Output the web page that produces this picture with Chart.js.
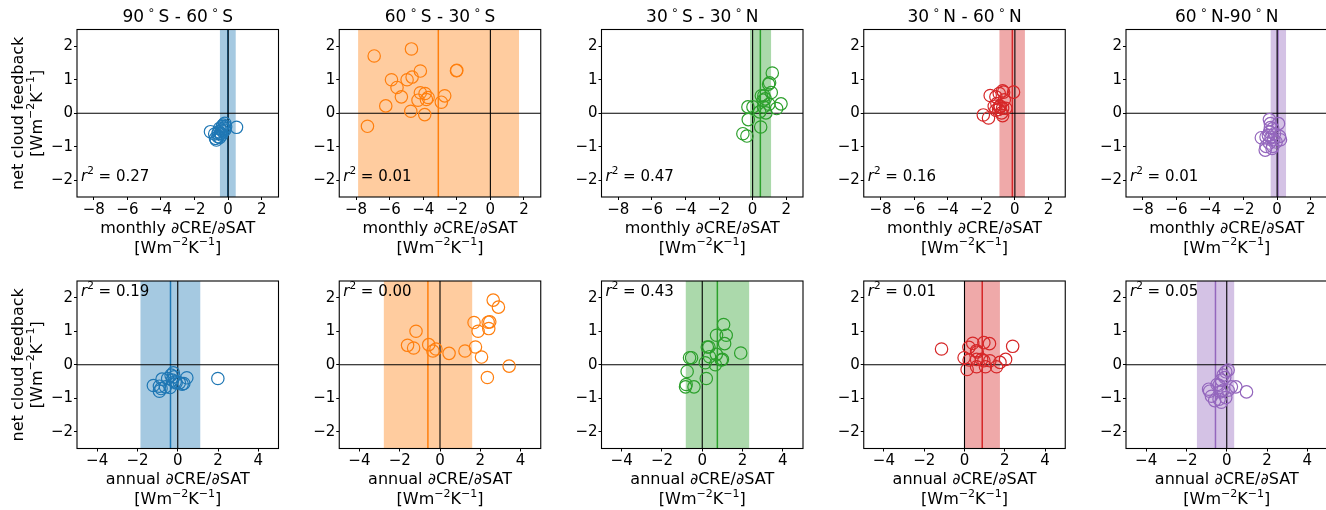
<!DOCTYPE html>
<html><head><meta charset="utf-8">
<script src="https://cdn.jsdelivr.net/npm/chart.js@4.4.0/dist/chart.umd.min.js"></script>
<style>
html,body{margin:0;padding:0;background:#fff;width:1326px;height:510px;overflow:hidden;position:relative}
canvas{position:absolute}
</style></head><body>
<script>
// ---------- DATA ----------
const regions = ['90°S - 60°S', '60°S - 30°S', '30°S - 30°N', '30°N - 60°N', '60°N-90°N'];
const monthlyXTicks = [-8, -6, -4, -2, 0, 2];
const annualXTicks = [-4, -2, 0, 2, 4];
const yTicks = [-2, -1, 0, 1, 2];
const monthlyRange = [-9, 3];
const annualRange = [-5, 5];
const yRange = [-2.5, 2.5];

const monthlyR2 = [0.27, 0.01, 0.47, 0.16, 0.01];
const annualR2 = [0.19, 0.00, 0.43, 0.01, 0.05];

const monthlyBandLo = [-0.50, -7.88, -0.16, -0.93, -0.40];
const monthlyBandHi = [0.46, 1.71, 1.11, 0.60, 0.54];
const monthlyMean = [-0.02, -3.10, 0.46, -0.15, 0.05];
const annualBandLo = [-1.86, -2.80, -0.83, 0.00, -1.49];
const annualBandHi = [1.13, 1.61, 2.34, 1.76, 0.38];
const annualMean = [-0.36, -0.60, 0.75, 0.88, -0.56];

// monthly dCRE/dSAT (x) vs net cloud feedback (y)
const m0x = [-1.05,-0.80,-0.75,-0.70,-0.60,-0.55,-0.50,-0.45,-0.40,-0.35,-0.30,-0.30,-0.25,-0.20,-0.20,-0.15,-0.60,-0.40,-0.50,0.50];
const m0y = [-0.55,-0.62,-0.75,-0.80,-0.70,-0.55,-0.45,-0.60,-0.50,-0.40,-0.35,-0.55,-0.45,-0.30,-0.50,-0.40,-0.60,-0.65,-0.72,-0.42];
const m1x = [-6.92,-4.70,-4.17,-2.02,-2.00,-5.89,-4.96,-4.66,-5.56,-5.30,-6.23,-4.17,-3.89,-4.31,-3.81,-3.71,-2.92,-2.72,-4.74,-3.91,-7.32];
const m1y = [1.71,1.92,1.26,1.27,1.28,1.00,1.00,1.08,0.77,0.49,0.22,0.61,0.59,0.39,0.41,0.47,0.33,0.52,0.06,-0.04,-0.39];
const m2x = [1.17,0.95,1.01,1.11,0.52,0.67,0.75,0.97,1.69,1.43,-0.28,0.02,0.65,0.42,0.79,-0.26,0.48,-0.58,-0.34,0.63];
const m2y = [1.20,0.87,0.91,0.62,0.52,0.52,0.43,0.27,0.28,0.14,0.19,0.19,0.19,0.04,0.01,-0.19,-0.41,-0.61,-0.68,0.39];
const m3x = [-1.47,-1.13,-0.93,-0.73,-0.67,-0.08,-0.63,-1.23,-0.93,-1.13,-0.97,-0.73,-0.54,-0.79,-1.88,-1.57,-0.73,-0.87,-1.07];
const m3y = [0.53,0.49,0.59,0.67,0.63,0.63,0.40,0.21,0.19,0.09,0.11,0.15,0.15,0.01,-0.05,-0.14,-0.07,0.21,0.29];
const m4x = [-0.46,-0.40,0.08,-0.40,-0.26,-0.46,-0.16,-0.94,-0.66,-0.36,0.20,-0.06,-0.46,-0.66,-0.71,-0.30,0.14,-0.26,-0.52,-0.20];
const m4y = [-0.19,-0.31,-0.31,-0.43,-0.46,-0.56,-0.61,-0.73,-0.71,-0.73,-0.79,-0.86,-0.89,-0.99,-1.10,-1.05,-0.69,-0.99,-0.66,-0.79];

// annual dCRE/dSAT (x) vs net cloud feedback (y)
const a0x = [1.99,0.45,0.30,0.22,-0.22,-0.18,-0.27,-0.08,-0.50,-0.78,-0.38,-1.21,-0.91,-0.83,-0.91,-0.61,0.08,-0.13,-0.33];
const a0y = [-0.41,-0.39,-0.56,-0.58,-0.24,-0.36,-0.46,-0.54,-0.41,-0.43,-0.68,-0.62,-0.64,-0.71,-0.79,-0.66,-0.54,-0.51,-0.31];
const a1x = [2.64,2.90,1.69,2.39,2.47,2.42,1.89,-1.19,-1.61,-1.31,-0.56,-0.35,-0.20,0.45,1.24,1.76,2.06,3.43,2.35];
const a1y = [1.93,1.72,1.26,1.27,1.28,1.08,1.00,1.00,0.58,0.50,0.60,0.41,0.47,0.34,0.41,0.53,0.23,-0.04,-0.38];
const a2x = [1.06,0.71,1.19,1.11,1.91,0.25,0.33,0.36,0.70,1.00,0.95,0.65,0.15,-0.63,-0.53,-0.75,0.20,-0.80,-0.83,-0.41];
const a2y = [1.20,0.88,0.88,0.63,0.35,0.53,0.53,0.24,0.31,0.16,0.14,0.00,0.06,0.21,0.21,-0.20,-0.41,-0.59,-0.66,-0.66];
const a3x = [-1.14,2.39,0.41,0.96,1.24,0.22,0.60,0.63,-0.02,0.23,0.85,0.96,1.26,2.04,1.76,1.59,1.04,0.60,0.13,0.60];
const a3y = [0.47,0.55,0.64,0.66,0.63,0.52,0.42,0.38,0.21,0.14,0.16,0.12,0.12,0.16,0.07,-0.06,-0.06,-0.06,-0.14,0.16];
const a4x = [0.98,0.45,0.07,-0.05,-0.18,-0.10,-0.27,-0.48,-0.90,-0.85,0.23,0.07,-0.18,-0.32,-0.76,-0.05,-0.60,-0.27,-0.38,-0.38];
const a4y = [-0.81,-0.66,-0.16,-0.21,-0.31,-0.38,-0.46,-0.59,-0.73,-0.79,-0.66,-0.76,-0.76,-0.81,-0.94,-0.98,-1.07,-1.12,-1.03,-0.61];

// ---------- STYLE ----------
const COLORS = ['#1f77b4', '#ff7f0e', '#2ca02c', '#d62728', '#9467bd'];
const BANDS = ['rgba(31,119,180,0.4)', 'rgba(255,127,14,0.4)', 'rgba(44,160,44,0.4)', 'rgba(214,39,40,0.4)', 'rgba(148,103,189,0.4)'];
const FAM = '"DejaVu Sans", sans-serif';

const rows = [
  { label: 'monthly', xs: [m0x, m1x, m2x, m3x, m4x], ys: [m0y, m1y, m2y, m3y, m4y], lo: monthlyBandLo, hi: monthlyBandHi, mean: monthlyMean, r2: monthlyR2, range: monthlyRange, ticks: monthlyXTicks },
  { label: 'annual', xs: [a0x, a1x, a2x, a3x, a4x], ys: [a0y, a1y, a2y, a3y, a4y], lo: annualBandLo, hi: annualBandHi, mean: annualMean, r2: annualR2, range: annualRange, ticks: annualXTicks }
];

function fmtTick(v) { return v < 0 ? '\u2212' + Math.abs(v) : String(v); }

function drawRich(ctx, parts, x, y, align) {
  let total = 0;
  parts.forEach(p => { ctx.font = p.font; p.w = ctx.measureText(p.t).width; total += p.w; });
  let sx = align === 'center' ? x - total / 2 : x;
  ctx.textBaseline = 'middle';
  ctx.textAlign = 'left';
  parts.forEach(p => { ctx.font = p.font; ctx.fillText(p.t, sx, y + (p.dy || 0)); sx += p.w; });
}
function unitParts(size) {
  const f = size + 'px ' + FAM, s = Math.round(size * 0.7) + 'px ' + FAM;
  return [{ t: '[Wm', font: f }, { t: '\u22122', font: s, dy: -size * 0.38 }, { t: 'K', font: f }, { t: '\u22121', font: s, dy: -size * 0.38 }, { t: ']', font: f }];
}
function titleParts(txt, size) {
  const f = size + 'px ' + FAM, s = Math.round(size * 0.7) + 'px ' + FAM;
  const pieces = txt.split('°');
  const out = [];
  const sp = '\u2009';
  pieces.forEach((p, i) => {
    out.push({ t: (i > 0 ? sp : '') + p + (i < pieces.length - 1 ? sp : ''), font: f });
    if (i < pieces.length - 1) out.push({ t: '\u2218', font: s, dy: -size * 0.4 });
  });
  return out;
}

const PLOT_W = 201.5, PLOT_H = 167.5;

function makePanel(r, c) {
  const row = rows[r];
  const plotLeft = 77 + c * 262.25;
  const plotTop = r === 0 ? 29.5 : 281;
  const cl = Math.round(plotLeft - 77);
  const ct = r === 0 ? 0 : 250;
  const cw = 300, ch = r === 0 ? 265 : 260;
  const yW = plotLeft - cl, xH = 50;
  const padTop = plotTop - ct;
  const padBottom = ch - padTop - PLOT_H - xH;
  const padRight = cw - yW - PLOT_W;
  const cv = document.createElement('canvas');
  cv.width = cw; cv.height = ch;
  cv.style.left = cl + 'px'; cv.style.top = ct + 'px';
  cv.style.width = cw + 'px'; cv.style.height = ch + 'px';
  document.body.appendChild(cv);

  const xs = row.xs[c], ys = row.ys[c];
  const pts = xs.map((x, i) => ({ x: x, y: ys[i] }));
  const color = COLORS[c];

  const deco = {
    id: 'deco' + r + c,
    afterDraw(chart) {
      const ctx = chart.ctx, a = chart.chartArea;
      ctx.save();
      ctx.strokeStyle = '#000';
      ctx.lineWidth = 1.1;
      ctx.strokeRect(a.left, a.top, a.right - a.left, a.bottom - a.top);
      ctx.fillStyle = '#000';
      const cx = (a.left + a.right) / 2;
      if (r === 0) drawRich(ctx, titleParts(regions[c], 17), cx, a.top - 11.5, 'center');
      drawRich(ctx, [{ t: row.label + ' \u2202CRE/\u2202SAT', font: '16px ' + FAM }], cx, a.bottom + 31.5, 'center');
      drawRich(ctx, unitParts(16), cx, a.bottom + 51.5, 'center');
      // r^2 annotation
      const ry = r === 0 ? a.bottom - 20 : a.top + 11.5;
      drawRich(ctx, [
        { t: 'r', font: 'italic 15px ' + FAM },
        { t: '2', font: '10.5px ' + FAM, dy: -6 },
        { t: ' = ' + row.r2[c].toFixed(2), font: '15px ' + FAM }
      ], a.left + 4, ry, 'left');
      if (c === 0) {
        const cy = (a.top + a.bottom) / 2;
        ctx.save();
        ctx.translate(18.5 - cl, cy);
        ctx.rotate(-Math.PI / 2);
        drawRich(ctx, [{ t: 'net cloud feedback', font: '16px ' + FAM }], 0, 0, 'center');
        ctx.restore();
        ctx.save();
        ctx.translate(37.5 - cl, cy);
        ctx.rotate(-Math.PI / 2);
        drawRich(ctx, unitParts(16), 0, 0, 'center');
        ctx.restore();
      }
      ctx.restore();
    }
  };

  new Chart(cv, {
    type: 'scatter',
    data: {
      datasets: [
        { type: 'scatter', data: pts, order: 0, pointRadius: 6.2, pointHoverRadius: 6.2, pointBorderWidth: 1.2,
          borderColor: color, backgroundColor: 'rgba(0,0,0,0)', pointStyle: 'circle' },
        { type: 'line', data: [{ x: row.range[0], y: 0 }, { x: row.range[1], y: 0 }], order: 1,
          borderColor: '#000', borderWidth: 1.1, pointRadius: 0, fill: false },
        { type: 'line', data: [{ x: 0, y: yRange[0] }, { x: 0, y: yRange[1] }], order: 1,
          borderColor: '#000', borderWidth: 1.1, pointRadius: 0, fill: false },
        { type: 'line', data: [{ x: row.mean[c], y: yRange[0] }, { x: row.mean[c], y: yRange[1] }], order: 2,
          borderColor: color, borderWidth: 1.5, pointRadius: 0, fill: false },
        { type: 'line', data: [{ x: row.lo[c], y: yRange[1] }, { x: row.hi[c], y: yRange[1] }], order: 3,
          borderWidth: 0, borderColor: 'rgba(0,0,0,0)', backgroundColor: BANDS[c], pointRadius: 0, fill: 'start' }
      ]
    },
    options: {
      responsive: false,
      animation: false,
      events: [],
      layout: { autoPadding: false, padding: { left: 0, right: padRight, top: padTop, bottom: padBottom } },
      plugins: { legend: { display: false }, tooltip: { enabled: false }, title: { display: false } },
      scales: {
        x: {
          type: 'linear', position: 'bottom', min: row.range[0], max: row.range[1],
          afterBuildTicks: s => { s.ticks = row.ticks.map(v => ({ value: v })); },
          afterFit: s => { s.height = xH; },
          ticks: { callback: v => fmtTick(v), font: { family: FAM, size: 15 }, color: '#000', padding: 1, maxRotation: 0, autoSkip: false },
          grid: { drawOnChartArea: false, drawTicks: true, tickLength: 3, tickColor: '#000', tickWidth: 1 },
          border: { display: false }
        },
        y: {
          type: 'linear', position: 'left', min: yRange[0], max: yRange[1],
          afterBuildTicks: s => { s.ticks = yTicks.map(v => ({ value: v })); },
          afterFit: s => { s.width = yW; },
          ticks: { callback: v => fmtTick(v), font: { family: FAM, size: 15 }, color: '#000', padding: 1, autoSkip: false },
          grid: { drawOnChartArea: false, drawTicks: true, tickLength: 3, tickColor: '#000', tickWidth: 1 },
          border: { display: false }
        }
      }
    },
    plugins: [deco]
  });
}

for (let r = 0; r < 2; r++) for (let c = 0; c < 5; c++) makePanel(r, c);
</script>
</body></html>
